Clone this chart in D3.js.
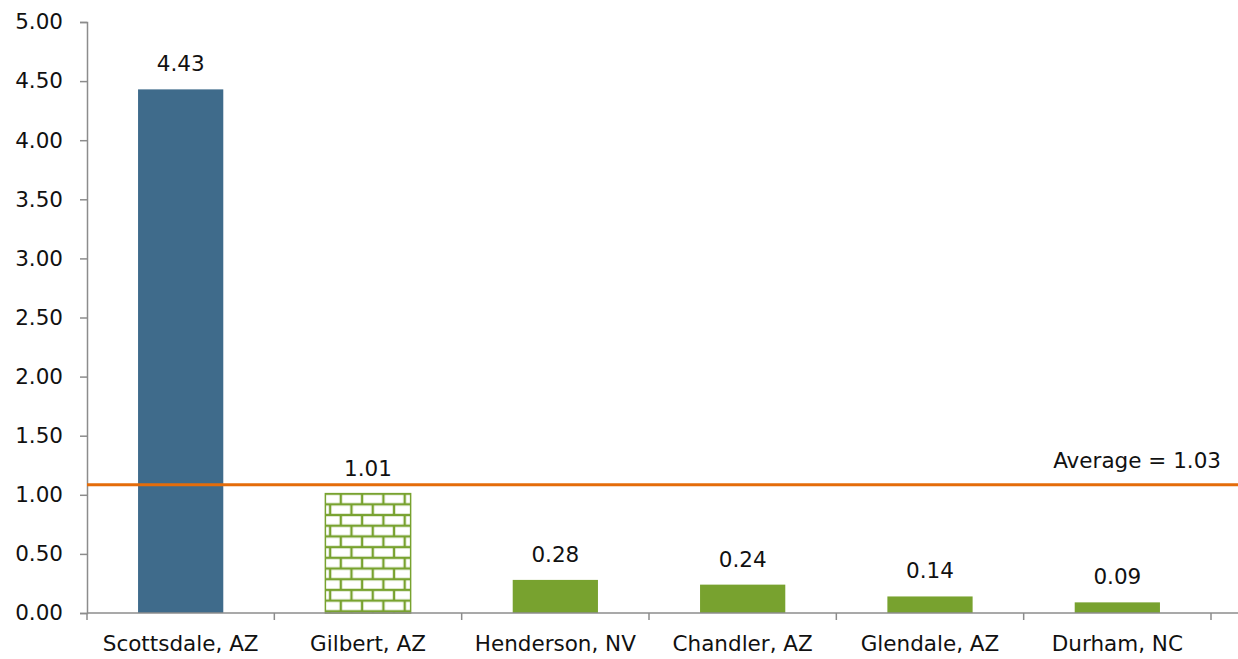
<!DOCTYPE html>
<html><head><meta charset="utf-8">
<script src="https://cdn.jsdelivr.net/npm/d3@7"></script>
<style>body{margin:0;background:#fff;} svg{display:block;font-family:"DejaVu Sans",Arial,sans-serif;}</style>
</head><body>
<svg id="c" width="1238" height="659"></svg>
<script>
const categories = ["Scottsdale, AZ","Gilbert, AZ","Henderson, NV","Chandler, AZ","Glendale, AZ","Durham, NC"];
const values = [4.43, 1.01, 0.28, 0.24, 0.14, 0.09];
const labels = ["4.43","1.01","0.28","0.24","0.14","0.09"];
const styles = ["blue","brick","green","green","green","green"];
const yTicks = [0,0.5,1,1.5,2,2.5,3,3.5,4,4.5,5];
const averageLine = 1.085;
const averageLabel = "Average = 1.03";

const FS = 21.5;
const svg = d3.select("#c");
const m = {l:87, t:22, r:27, b:46};
const W = 1238, H = 659;
const x = d3.scaleBand().domain(categories).range([m.l, W - m.r]).paddingInner(0.545).paddingOuter(0.2725);
const y = d3.scaleLinear().domain([0,5]).range([H - m.b, m.t]);

const defs = svg.append("defs");
const pat = defs.append("pattern").attr("id","brick").attr("patternUnits","userSpaceOnUse")
  .attr("width",21.3).attr("height",21.4).attr("x", 0).attr("y", y(values[1]));
pat.append("rect").attr("width",21.3).attr("height",21.4).attr("fill","#78a22f");
pat.append("rect").attr("x",1.2).attr("y",1.2).attr("width",18.9).attr("height",8.3).attr("fill","#fff");
pat.append("rect").attr("x",-9.45).attr("y",11.9).attr("width",18.9).attr("height",8.3).attr("fill","#fff");
pat.append("rect").attr("x",11.85).attr("y",11.9).attr("width",18.9).attr("height",8.3).attr("fill","#fff");

const colorFor = s => s === "blue" ? "#3f6b8b" : s === "brick" ? "url(#brick)" : "#78a22f";

// axes
const yAxis = d3.axisLeft(y).tickValues(yTicks).tickFormat(d3.format(".2f")).tickSize(7).tickPadding(17);
const gy = svg.append("g").attr("transform",`translate(${m.l},0)`).call(yAxis);
gy.selectAll("text").attr("font-size",FS).attr("fill","#111").attr("font-family","DejaVu Sans, Arial, sans-serif");
gy.selectAll("line,path").attr("stroke","#8c8c8c").attr("stroke-width",1.5);

const bars = svg.append("g");
bars.selectAll("rect").data(values).join("rect")
  .attr("x",(d,i)=>x(categories[i]))
  .attr("y",d=>y(d))
  .attr("width",x.bandwidth())
  .attr("height",d=>y(0)-y(d))
  .attr("fill",(d,i)=>colorFor(styles[i]))
  .attr("stroke",(d,i)=>styles[i]==="brick"?"#78a22f":"none")
  .attr("stroke-width",1.5);

const gx = svg.append("g").attr("transform",`translate(0,${y(0)})`);
gx.append("line").attr("x1",m.l).attr("x2",W).attr("stroke","#8c8c8c").attr("stroke-width",1.5);
const step = x.step();
const outer = (W - m.r - m.l - categories.length*step)/2;
gx.selectAll("line.tk").data(d3.range(categories.length+1)).join("line").attr("class","tk")
  .attr("x1",i=>m.l+outer+i*step).attr("x2",i=>m.l+outer+i*step).attr("y1",0).attr("y2",7)
  .attr("stroke","#8c8c8c").attr("stroke-width",1.5);
gx.selectAll("text").data(categories).join("text")
  .attr("x",d=>x(d)+x.bandwidth()/2).attr("y",38)
  .attr("text-anchor","middle").attr("font-size",FS).attr("fill","#111").text(d=>d);

// data labels
svg.append("g").selectAll("text").data(values).join("text")
  .attr("x",(d,i)=>x(categories[i])+x.bandwidth()/2)
  .attr("y",d=>y(d)-18)
  .attr("text-anchor","middle").attr("font-size",FS).attr("fill","#111")
  .text((d,i)=>labels[i]);

// average line
svg.append("line").attr("x1",m.l).attr("x2",W).attr("y1",y(averageLine)).attr("y2",y(averageLine))
  .attr("stroke","#e46c0a").attr("stroke-width",3);
svg.append("text").attr("x",1221).attr("y",y(averageLine)-17).attr("text-anchor","end")
  .attr("font-size",FS).attr("fill","#111").text(averageLabel);
</script>
</body></html>
